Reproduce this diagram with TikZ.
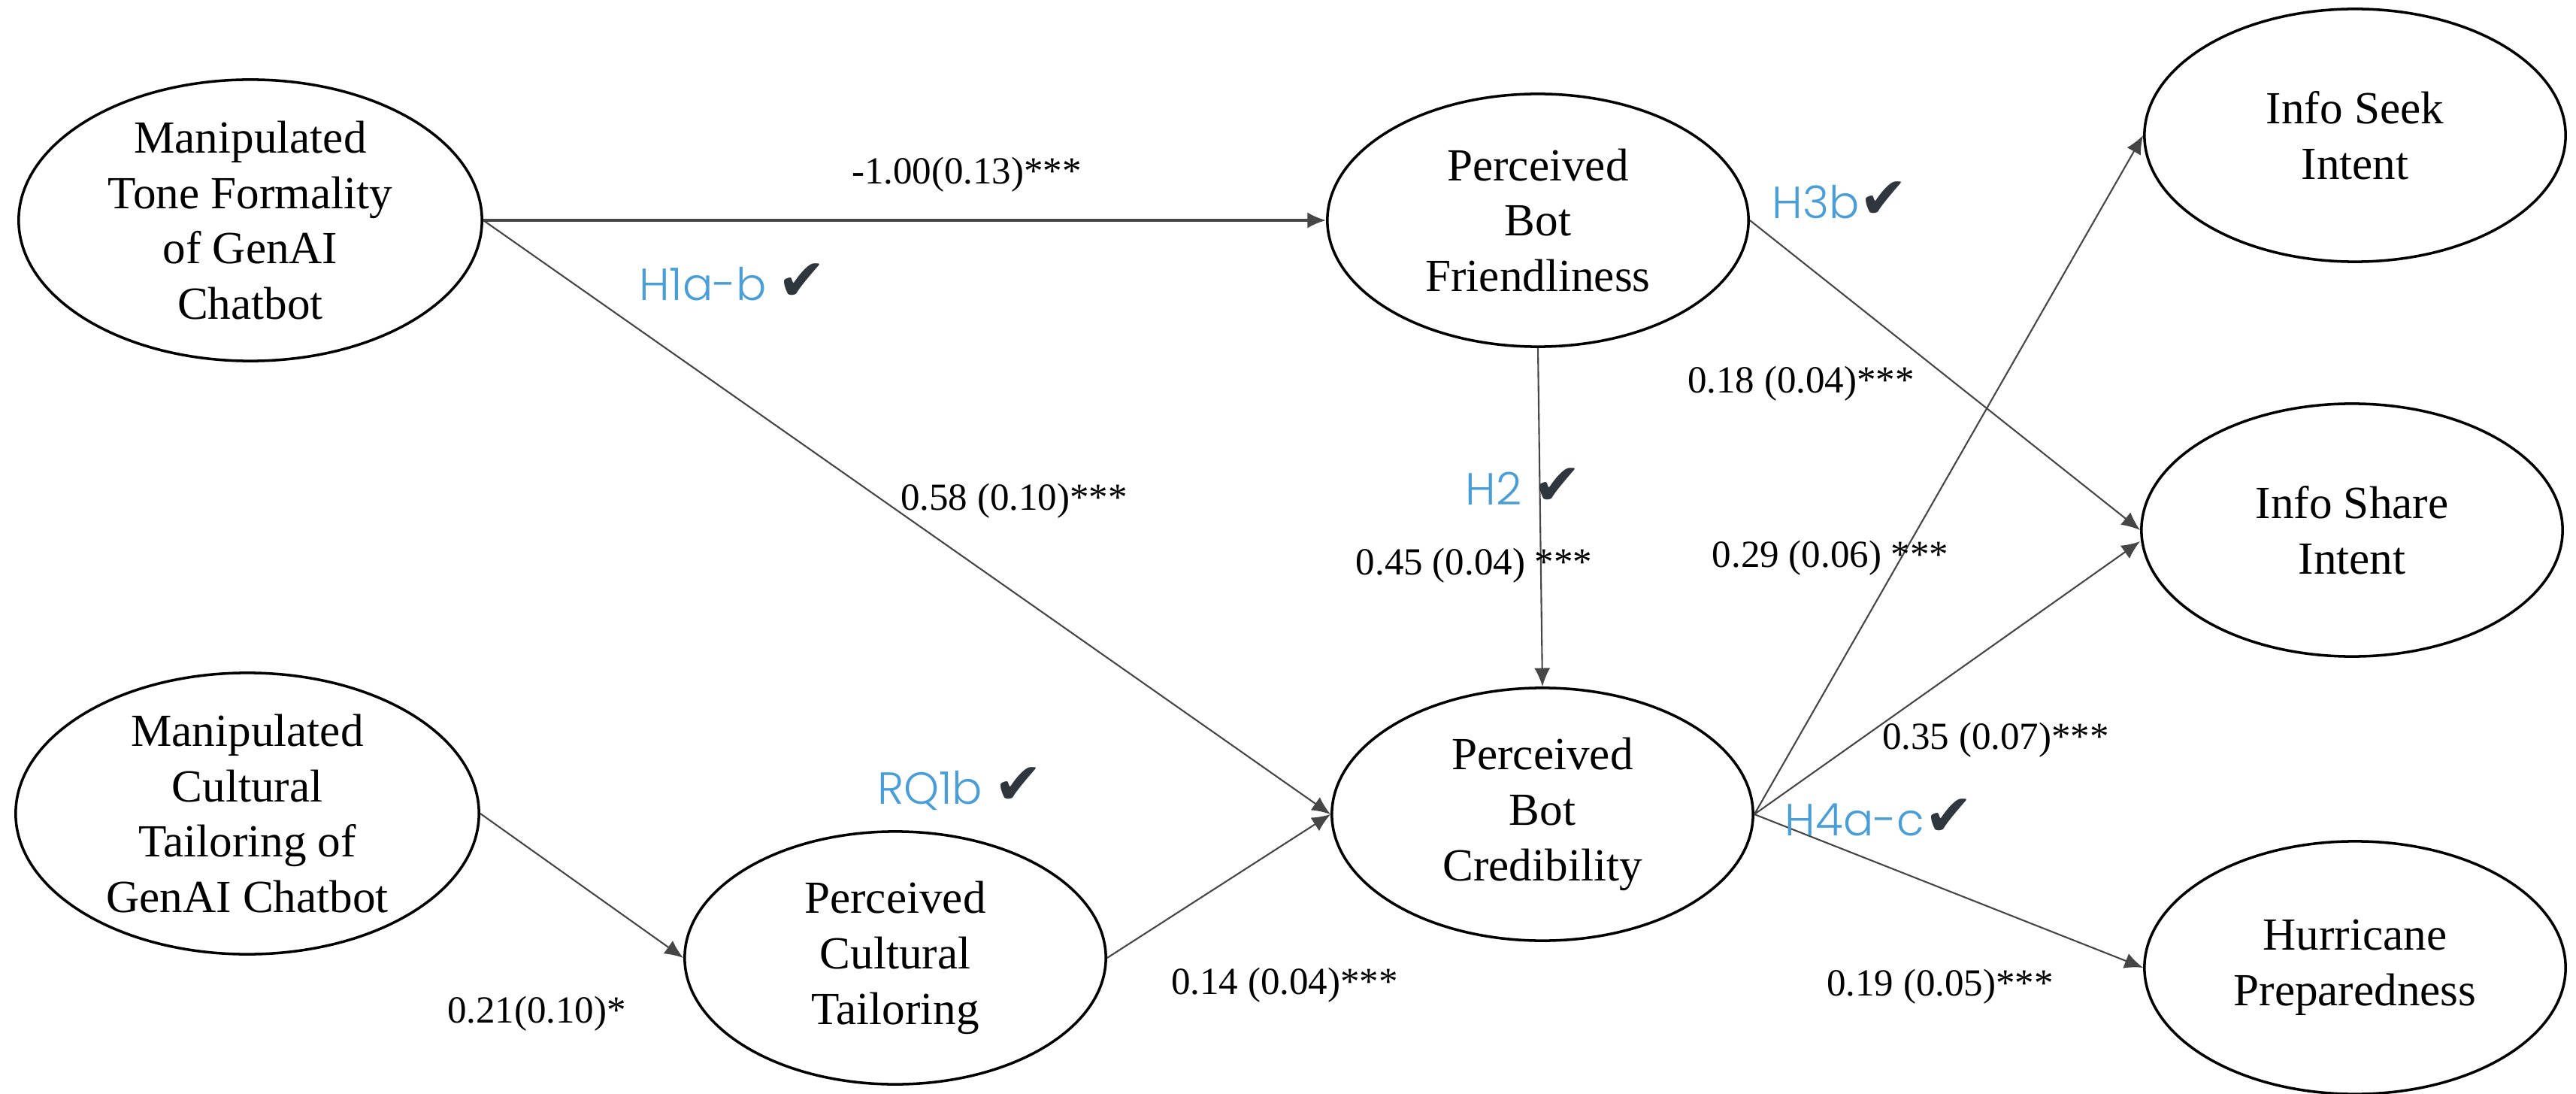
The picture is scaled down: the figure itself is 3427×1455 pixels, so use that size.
\documentclass[tikz,border=0pt]{standalone}
\usepackage{fontspec}
\setmainfont{Liberation Serif}
\newfontfamily\hypfont{Poppins}[UprightFont=* Light]
\newfontfamily\tickfont{DejaVu Sans}
\usetikzlibrary{shapes.geometric,arrows.meta}

\definecolor{hypblue}{RGB}{74,158,216}
\definecolor{tickgray}{RGB}{48,54,62}
\definecolor{pathgray}{RGB}{70,70,70}

\newcommand{\hypname}[1]{{\color{hypblue}\hypfont #1}}
\newcommand{\okmark}{{\color{tickgray}\tickfont\fontsize{22}{22}\selectfont ✔}}

\tikzset{
  latent/.style={ellipse, draw, line width=1pt, align=center, inner sep=0pt,
    minimum width=5.6cm, minimum height=3.36cm, font=\fontsize{17.4}{21}\selectfont},
  effect/.style={draw=pathgray, line width=0.6pt, -{Latex[length=7pt,width=6pt]}},
  coef/.style={inner sep=0pt, font=\fontsize{14.5}{17}\selectfont},
  hyp/.style={inner sep=0pt, font=\fontsize{17}{20}\selectfont}
}

\begin{document}
\begin{tikzpicture}[x=0.01cm, y=-0.01cm]
\useasboundingbox (0,0) rectangle (3427,1455);

% constructs
\node [latent, minimum width=6.16cm] (tone) at (333,293) {Manipulated\\Tone Formality\\of GenAI\\Chatbot};
\node [latent, minimum width=6.16cm] (cultmanip) at (329,1082) {Manipulated\\Cultural\\Tailoring of\\GenAI Chatbot};
\node [latent] (culttail) at (1191,1274) {Perceived\\Cultural\\Tailoring};
\node [latent] (friendly) at (2046,293) {Perceived\\Bot\\Friendliness};
\node [latent] (cred) at (2052,1083) {Perceived\\Bot\\Credibility};
\node [latent] (seek) at (3133,180) {Info Seek\\Intent};
\node [latent] (share) at (3129,705) {Info Share\\Intent};
\node [latent] (prep) at (3133,1287) {Hurricane\\Preparedness};

% paths
\draw [effect, line width=0.9pt] (tone.east) -- (friendly.west);
\draw [effect] (tone.east) -- (cred.west);
\draw [effect] (friendly.south) -- (cred.north);
\draw [effect] (friendly.east) -- (share.west);
\draw [effect] (cred.east) -- (seek.west);
\draw [effect] (cred.east) -- ([yshift=-0.15cm]share.west);
\draw [effect] (cred.east) -- (prep.west);
\draw [effect] (cultmanip.east) -- (culttail.west);
\draw [effect] (culttail.east) -- (cred.west);

% coefficients
\node [coef] (b1) at (1286,232) {-1.00(0.13)***};
\node [coef] (b2) at (1349,666) {0.58 (0.10)***};
\node [coef] (b3) at (1961,752) {0.45 (0.04) ***};
\node [coef] (b4) at (2435,742) {0.29 (0.06) ***};
\node [coef] (b5) at (2396,510) {0.18 (0.04)***};
\node [coef] (b6) at (2655,984) {0.35 (0.07)***};
\node [coef] (b7) at (2581,1312) {0.19 (0.05)***};
\node [coef] (b8) at (714,1348) {0.21(0.10)*};
\node [coef] (b9) at (1709,1310) {0.14 (0.04)***};

% hypotheses
\node [hyp] (h1) at (975,375) {\hypname{H1a-b} \okmark};
\node [hyp] (h2) at (2027,647) {\hypname{H2} \okmark};
\node [hyp] (h3) at (2448,266) {\hypname{H3b}\okmark};
\node [hyp] (h4) at (2500,1087) {\hypname{H4a-c}\okmark};
\node [hyp] (rq1) at (1277,1049) {\hypname{RQ1b} \okmark};
\end{tikzpicture}
\end{document}
